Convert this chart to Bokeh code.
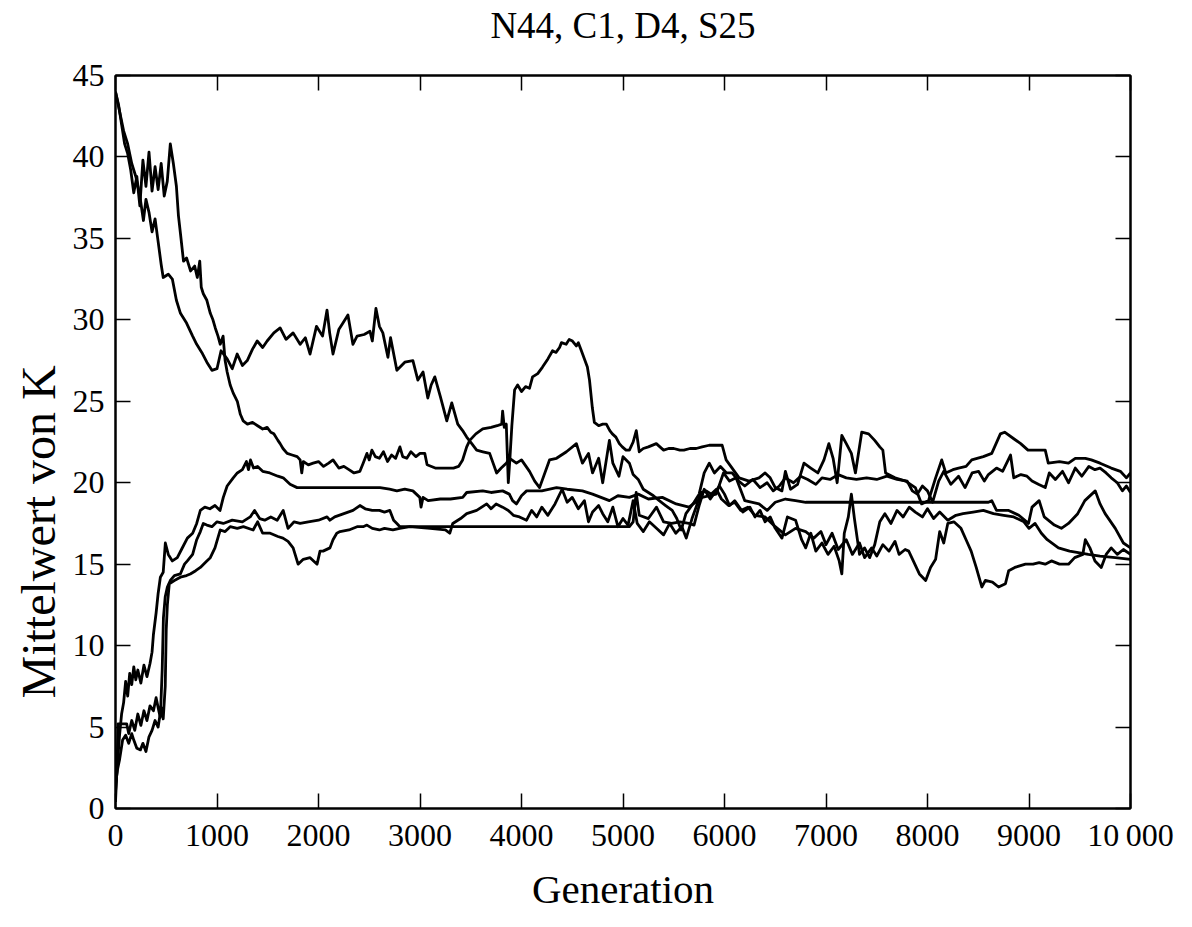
from bokeh.plotting import figure
from bokeh.models import LinearAxis, FixedTicker, Range1d, Title
from bokeh.embed import file_html
from bokeh.resources import INLINE

# ---- data: (generation, mean K) ----
run_a = [(0,44.0),(30,43.2),(60,42.0),(90,40.8),(120,40.2),(150,39.2),(180,37.8),(210,38.8),(240,37.0),(270,39.8),(300,38.2),(330,40.3),(360,37.9),(390,39.4),(420,38.0),(450,39.6),(480,37.6),(510,38.5),(540,40.8),(570,39.6),(600,38.2),(620,36.4),(640,35.3),(670,33.6),(700,33.8),(740,33.0),(780,33.3),(806,32.6),(830,33.6),(845,32.0),(865,31.6),(900,31.2),(934,30.4),(960,30.0),(983,29.5),(1010,29.0),(1032,28.5),(1060,29.0),(1080,27.5),(1100,26.8),(1130,26.0),(1160,25.5),(1200,25.0),(1230,24.2),(1258,23.8),(1300,23.6),(1350,23.7),(1400,23.5),(1450,23.3),(1494,23.4),(1530,23.1),(1560,23.0),(1600,22.6),(1622,22.4),(1650,22.1),(1691,21.8),(1740,21.7),(1790,21.6),(1819,21.4),(1835,20.6),(1850,21.3),(1900,21.1),(1947,21.2),(2000,21.3),(2050,21.0),(2100,21.2),(2143,21.4),(2200,20.9),(2250,21.0),(2300,20.8),(2350,20.6),(2408,20.7),(2440,21.2),(2477,21.8),(2500,21.4),(2526,22.0),(2560,21.6),(2600,21.5),(2640,21.9),(2680,21.3),(2720,21.7),(2760,21.5),(2802,22.2),(2830,21.6),(2870,21.5),(2910,21.9),(2960,21.6),(3000,21.8),(3047,21.8),(3070,21.1),(3150,20.9),(3250,20.9),(3330,20.9),(3380,21.0),(3420,21.4),(3460,22.2),(3490,22.6),(3550,23.0),(3618,23.3),(3700,23.4),(3760,23.5),(3805,23.6),(3814,24.4),(3830,23.4),(3850,23.6),(3870,20.0),(3885,21.4),(3905,23.5),(3932,25.7),(3962,26.0),(4000,25.6),(4040,25.9),(4079,25.8),(4109,26.5),(4160,26.7),(4207,27.1),(4260,27.6),(4306,28.1),(4340,28.0),(4375,28.3),(4394,28.6),(4440,28.5),(4470,28.8),(4502,28.7),(4540,28.4),(4560,28.6),(4590,28.1),(4620,27.6),(4649,27.1),(4670,26.3),(4698,24.6),(4718,23.7),(4760,23.5),(4800,23.6),(4836,23.6),(4870,23.2),(4895,23.0),(4930,22.8),(4964,22.4),(4993,22.2),(5030,22.0),(5063,22.0),(5100,22.5),(5131,23.2),(5160,21.9),(5200,22.1),(5250,22.2),(5328,22.4),(5400,22.0),(5450,22.1),(5500,22.1),(5560,22.0),(5600,22.0),(5660,22.1),(5721,22.1),(5780,22.2),(5850,22.3),(5900,22.3),(5977,22.3),(6016,21.4),(6075,20.9),(6144,20.3),(6242,20.1),(6340,20.3),(6400,20.6),(6450,20.3),(6500,19.7),(6566,19.5),(6600,20.7),(6650,19.6),(6720,19.9),(6783,21.2),(6850,20.9),(6920,20.6),(6980,21.4),(7028,22.4),(7070,21.5),(7110,20.0),(7156,22.9),(7200,22.4),(7250,21.8),(7290,20.6),(7352,23.1),(7420,23.0),(7480,22.6),(7530,22.2),(7560,22.0),(7587,20.6),(7680,20.3),(7785,20.1),(7880,19.7),(7942,18.7),(8010,18.9),(8080,20.3),(8140,21.4),(8180,20.6),(8250,20.8),(8306,20.9),(8380,21.0),(8436,21.4),(8550,21.6),(8633,21.8),(8718,23.0),(8760,23.1),(8850,22.7),(8918,22.4),(8990,22.0),(9100,22.0),(9160,22.0),(9190,21.2),(9300,21.3),(9389,21.2),(9456,21.5),(9555,21.5),(9614,21.4),(9700,21.2),(9810,20.9),(9900,20.7),(9960,20.3),(10000,20.6)]

run_b = [(0,44.0),(40,42.8),(80,41.6),(120,40.8),(160,39.6),(200,38.8),(240,37.6),(275,36.1),(300,37.4),(330,36.6),(360,35.4),(390,36.2),(420,34.8),(450,33.4),(470,32.6),(520,32.8),(560,32.5),(600,31.2),(640,30.4),(700,29.8),(760,29.0),(800,28.5),(850,28.0),(900,27.4),(950,26.9),(1000,27.0),(1040,28.1),(1100,27.6),(1150,27.0),(1199,27.9),(1250,27.2),(1298,27.5),(1350,28.2),(1396,28.7),(1450,28.3),(1494,28.7),(1560,29.2),(1622,29.5),(1680,28.8),(1750,29.2),(1819,28.5),(1870,28.9),(1917,27.9),(1980,29.6),(2040,29.0),(2084,30.6),(2110,29.2),(2143,27.9),(2200,29.4),(2241,29.8),(2290,30.3),(2339,28.5),(2380,29.0),(2450,29.1),(2507,29.3),(2530,28.7),(2566,30.7),(2600,29.6),(2634,29.2),(2684,27.7),(2710,28.9),(2772,26.9),(2850,27.4),(2930,27.5),(2979,26.3),(3030,26.8),(3077,25.2),(3110,26.0),(3146,26.5),(3200,25.3),(3264,23.8),(3313,24.9),(3372,23.6),(3420,23.2),(3460,22.8),(3510,22.4),(3558,22.0),(3620,21.9),(3686,21.8),(3755,20.6),(3800,20.9),(3850,21.2),(3883,21.5),(3950,21.2),(4000,21.4),(4079,20.7),(4130,20.1),(4178,19.7),(4276,21.4),(4345,21.5),(4443,21.9),(4541,22.4),(4600,21.2),(4660,21.8),(4700,20.6),(4760,21.5),(4800,20.0),(4866,22.6),(4900,21.2),(4960,20.4),(5000,21.6),(5063,21.2),(5100,20.5),(5150,20.2),(5200,19.6),(5300,19.2),(5357,18.9),(5420,18.6),(5485,18.3),(5530,17.8),(5574,17.1),(5620,18.1),(5700,18.8),(5750,19.3),(5800,20.6),(5850,21.2),(5900,20.6),(5960,21.0),(6020,20.6),(6075,20.6),(6140,20.1),(6200,19.8),(6280,20.2),(6350,19.7),(6420,20.0),(6480,19.5),(6540,19.8),(6600,20.3),(6680,20.0),(6750,20.4),(6820,20.2),(6900,19.9),(6960,20.3),(7040,20.2),(7120,20.5),(7200,20.3),(7300,20.2),(7400,20.3),(7500,20.2),(7600,20.4),(7700,20.2),(7800,20.1),(7850,19.5),(7900,19.3),(7950,19.8),(8000,19.5),(8050,18.8),(8110,20.1),(8160,20.7),(8230,19.9),(8306,20.4),(8370,19.7),(8440,20.6),(8503,20.7),(8560,20.1),(8600,20.5),(8680,20.9),(8740,20.7),(8818,21.7),(8850,20.3),(8920,20.5),(8980,20.4),(9030,20.1),(9092,19.9),(9160,19.7),(9200,20.6),(9260,20.2),(9330,20.7),(9390,20.0),(9456,20.9),(9520,20.4),(9590,21.0),(9650,20.8),(9700,20.9),(9760,20.6),(9810,20.3),(9870,20.0),(9920,19.5),(9960,19.8),(10000,19.4)]

run_c = [(0,1.0),(20,2.8),(40,4.5),(60,5.8),(80,6.5),(100,7.8),(120,6.9),(140,8.3),(160,7.6),(180,8.7),(200,7.9),(220,8.5),(250,7.7),(280,8.8),(310,8.1),(340,8.9),(360,9.6),(374,10.7),(400,12.0),(420,13.2),(442,14.2),(470,14.5),(491,16.3),(520,15.6),(560,15.2),(609,15.4),(650,15.9),(708,16.6),(760,16.9),(800,17.5),(836,18.3),(880,18.5),(930,18.4),(980,18.6),(1030,18.3),(1062,19.1),(1100,19.8),(1160,20.3),(1200,20.6),(1250,20.8),(1290,21.3),(1310,20.8),(1330,21.4),(1360,20.9),(1400,21.0),(1450,20.7),(1520,20.6),(1600,20.4),(1652,20.3),(1720,19.9),(1789,19.7),(2200,19.7),(2606,19.7),(2700,19.6),(2772,19.5),(2850,19.6),(2930,19.5),(2998,19.1),(3010,18.5),(3030,19.1),(3080,18.9),(3200,19.0),(3300,19.0),(3421,19.1),(3460,19.4),(3618,19.5),(3700,19.4),(3814,19.5),(3880,19.3),(3912,18.9),(3950,18.7),(4000,19.2),(4050,19.5),(4200,19.5),(4345,19.7),(4450,19.6),(4600,19.5),(4700,19.3),(4866,18.9),(4950,19.2),(5063,19.1),(5150,19.3),(5250,19.0),(5387,19.1),(5524,18.7),(5650,18.5),(5780,19.1),(5918,19.3),(5990,20.6),(6050,20.1),(6114,20.3),(6200,18.9),(6340,18.7),(6420,18.3),(6500,18.8),(6600,19.0),(6700,18.9),(6800,18.8),(7350,18.8),(8000,18.8),(8600,18.8),(8633,18.9),(8680,18.3),(8800,18.3),(8900,18.0),(8995,17.5),(9030,18.5),(9100,18.9),(9150,17.9),(9250,17.4),(9319,17.2),(9389,17.5),(9480,18.1),(9550,18.9),(9653,19.5),(9700,18.7),(9750,18.1),(9850,17.2),(9930,16.3),(10000,16.0)]

run_d = [(0,0.4),(15,2.5),(25,5.2),(60,5.2),(110,5.2),(130,4.6),(160,5.4),(190,4.8),(220,5.8),(250,5.1),(280,6.0),(310,5.4),(340,6.3),(374,6.0),(400,6.8),(430,5.9),(442,5.6),(460,8.5),(472,11.7),(490,13.0),(511,13.6),(540,14.0),(580,14.3),(639,14.4),(680,15.0),(708,15.2),(760,15.6),(800,16.5),(836,17.0),(865,17.5),(900,17.4),(950,17.3),(1000,17.6),(1062,17.5),(1150,17.7),(1250,17.6),(1327,17.9),(1370,18.3),(1420,17.8),(1470,17.7),(1530,17.9),(1593,17.7),(1652,18.3),(1700,17.2),(1760,17.6),(1819,17.5),(1900,17.6),(2000,17.7),(2084,17.9),(2113,17.7),(2160,17.9),(2250,18.1),(2340,18.3),(2408,18.6),(2460,18.4),(2530,18.3),(2600,18.3),(2650,18.2),(2703,18.3),(2740,17.7),(2772,17.5),(2802,17.3),(3500,17.3),(4200,17.3),(5063,17.3),(5100,17.6),(5130,19.4),(5160,18.0),(5250,17.8),(5330,18.5),(5400,17.6),(5480,17.5),(5560,17.6),(5650,17.5),(5700,17.4),(5750,18.6),(5800,19.6),(5860,19.0),(5950,19.8),(6000,19.3),(6050,18.6),(6100,18.9),(6180,18.2),(6250,18.5),(6300,17.9),(6350,18.3),(6400,17.6),(6450,17.9),(6500,17.2),(6566,16.6),(6620,17.9),(6700,17.7),(6760,16.5),(6800,16.0),(6850,16.9),(6900,15.8),(6960,16.3),(7020,15.6),(7080,16.1),(7130,15.2),(7156,14.4),(7180,16.9),(7220,17.9),(7250,19.3),(7280,17.8),(7330,15.6),(7380,16.0),(7430,15.4),(7480,16.2),(7530,17.6),(7580,18.1),(7640,17.5),(7700,18.3),(7760,17.9),(7820,18.5),(7880,18.2),(7950,17.9),(8000,18.4),(8060,17.8),(8120,18.2),(8200,17.7),(8280,18.0),(8350,18.1),(8450,18.2),(8550,18.3),(8650,18.1),(8750,18.0),(8850,17.9),(8950,17.6),(9000,17.2),(9060,17.5),(9122,16.9),(9180,16.5),(9290,16.0),(9400,15.8),(9500,15.7),(9584,15.6),(9700,15.5),(9850,15.4),(10000,15.3)]

run_e = [(0,1.5),(20,2.4),(40,3.0),(70,4.2),(100,4.5),(130,4.0),(160,4.6),(180,4.2),(210,3.7),(246,3.6),(270,4.0),(300,3.5),(330,4.4),(360,4.8),(390,5.4),(420,5.0),(450,6.2),(470,5.5),(490,7.5),(500,11.0),(511,12.5),(530,13.8),(580,14.0),(639,14.2),(700,14.3),(737,14.4),(790,14.6),(836,14.8),(900,15.2),(934,15.4),(980,16.0),(1032,17.1),(1080,17.0),(1130,17.3),(1200,17.2),(1260,17.3),(1356,17.1),(1400,17.6),(1450,16.9),(1524,16.9),(1600,16.7),(1650,16.6),(1700,16.4),(1750,16.0),(1799,15.0),(1850,15.3),(1917,15.4),(1986,15.0),(2015,15.8),(2045,15.8),(2113,16.0),(2143,16.5),(2180,16.9),(2212,17.0),(2300,17.1),(2380,17.3),(2440,17.3),(2477,17.4),(2530,17.2),(2600,17.1),(2650,17.2),(2733,17.1),(2800,17.2),(2900,17.3),(3100,17.2),(3250,17.1),(3293,16.9),(3323,17.5),(3400,17.8),(3460,18.1),(3558,18.3),(3657,18.7),(3700,18.4),(3750,18.7),(3814,18.5),(3870,18.3),(3920,18.0),(3980,17.9),(4050,17.7),(4100,18.3),(4150,17.9),(4200,18.5),(4260,18.0),(4330,18.7),(4400,19.6),(4450,18.8),(4500,19.1),(4560,18.4),(4620,18.9),(4660,17.6),(4700,18.2),(4760,18.6),(4800,18.1),(4850,17.6),(4900,18.5),(4950,17.3),(5000,17.8),(5050,17.4),(5100,18.9),(5140,17.5),(5200,17.0),(5260,17.6),(5330,17.2),(5400,16.8),(5460,17.5),(5520,16.9),(5580,17.3),(5623,16.6),(5680,17.8),(5720,18.5),(5770,19.4),(5820,19.5),(5870,19.3),(5920,19.6),(5970,19.0),(6040,18.6),(6100,18.8),(6160,18.3),(6230,18.5),(6300,18.0),(6400,17.9),(6500,17.3),(6600,16.8),(6700,17.2),(6800,17.0),(6880,16.6),(6950,17.0),(7000,16.2),(7060,16.9),(7120,15.9),(7200,16.5),(7260,15.6),(7330,16.3),(7380,15.4),(7450,16.0),(7500,15.5),(7560,16.2),(7620,15.8),(7680,16.4),(7720,15.6),(7780,15.9),(7815,15.8),(7860,15.2),(7920,14.4),(7982,14.0),(8030,14.8),(8080,15.3),(8120,17.0),(8160,16.3),(8200,17.5),(8260,17.6),(8330,17.2),(8380,16.5),(8430,15.8),(8480,14.8),(8535,13.6),(8570,14.0),(8640,13.9),(8700,13.6),(8768,13.8),(8800,14.6),(8860,14.8),(8965,15.0),(9040,15.0),(9100,15.1),(9160,15.0),(9221,15.2),(9300,15.0),(9389,15.0),(9450,15.4),(9530,15.6),(9555,16.5),(9600,16.0),(9650,15.2),(9712,14.8),(9760,15.6),(9810,16.0),(9870,15.6),(9930,15.9),(10000,15.6)]

runs = [run_a, run_b, run_c, run_d, run_e]

x_ticks = list(range(0, 10001, 1000))
y_ticks = list(range(0, 46, 5))
x_tick_labels = {10000: "10\u2009000"}

title_text = "N44, C1, D4, S25"
x_label = "Generation"
y_label = "Mittelwert von K"

FONT = "Liberation Serif"

p = figure(width=1192, height=927, output_backend="svg", toolbar_location=None,
           x_range=Range1d(0, 10000), y_range=Range1d(0, 45),
           min_border_left=115, min_border_right=62, min_border_top=75, min_border_bottom=119,
           title=None)

p.xgrid.grid_line_color = None
p.ygrid.grid_line_color = None
p.outline_line_color = "black"
p.outline_line_width = 2
p.background_fill_color = "white"
p.border_fill_color = "white"


def style_axis(ax, ticks, labels=True):
    ax.ticker = FixedTicker(ticks=ticks)
    ax.major_tick_in = 15
    ax.major_tick_out = 0
    ax.minor_tick_in = 0
    ax.minor_tick_out = 0
    ax.major_tick_line_color = "black"
    ax.major_tick_line_width = 1.5
    ax.axis_line_color = "black"
    ax.axis_line_width = 2
    ax.axis_label_text_font = FONT
    ax.axis_label_text_font_style = "normal"
    ax.axis_label_text_color = "black"
    if labels:
        ax.major_label_text_font = FONT
        ax.major_label_text_font_size = "32px"
        ax.major_label_text_color = "black"
        ax.axis_label_text_font_size = "40px"
    else:
        ax.major_label_text_font_size = "1px"
        ax.major_label_text_color = None
        ax.major_label_standoff = 0


xa = p.xaxis[0]
style_axis(xa, x_ticks)
xa.axis_label = x_label
xa.axis_label_text_font_size = "41px"
xa.major_label_overrides = x_tick_labels
xa.major_label_standoff = 8
xa.axis_label_standoff = 10

ya = p.yaxis[0]
style_axis(ya, y_ticks)
ya.major_label_standoff = 11

# y-axis title, set a little below the middle as in the original
ytitle = Title(text=y_label, align="left", offset=110,
               text_font=FONT, text_font_size="48px", text_font_style="normal",
               text_color="black")
p.add_layout(ytitle, "left")

# top axis: mirrored ticks, and it carries the chart title as its label
top = LinearAxis()
style_axis(top, x_ticks, labels=False)
top.axis_label = title_text
top.axis_label_text_font_size = "37px"
top.axis_label_standoff = 30
p.add_layout(top, "above")

right = LinearAxis()
style_axis(right, y_ticks, labels=False)
p.add_layout(right, "right")

for run in runs:
    xs = [g for g, v in run]
    ys = [v for g, v in run]
    p.line(xs, ys, line_color="black", line_width=2.8, line_join="round")

open("out.html", "w").write(file_html(p, INLINE))
